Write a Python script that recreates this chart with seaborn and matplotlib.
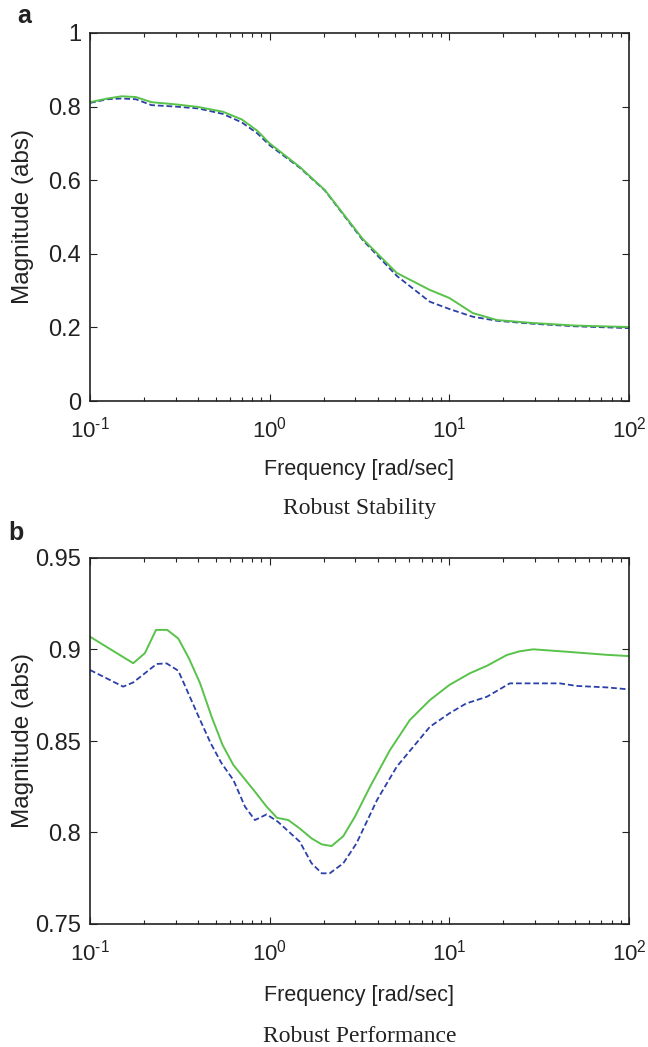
import numpy as np
import pandas as pd
import matplotlib
matplotlib.use("Agg")
import matplotlib.pyplot as plt
import matplotlib.ticker as mticker
import seaborn as sns

# Robust stability (mu bounds), panel a
rs_freq = [0.1, 0.125, 0.15, 0.18, 0.22, 0.3, 0.4, 0.55, 0.7, 0.85, 1.0, 1.47,
           2.03, 3.3, 5.1, 7.77, 10, 13.5, 18.4, 29, 50, 100]
rs_upper = [0.812, 0.822, 0.828, 0.826, 0.812, 0.806, 0.799, 0.786, 0.765, 0.735,
            0.700, 0.636, 0.573, 0.440, 0.348, 0.302, 0.280, 0.239, 0.220, 0.212,
            0.205, 0.201]
rs_lower = [0.810, 0.820, 0.822, 0.820, 0.804, 0.800, 0.795, 0.780, 0.757, 0.728,
            0.695, 0.634, 0.572, 0.437, 0.340, 0.270, 0.250, 0.229, 0.218, 0.210,
            0.203, 0.198]

# Robust performance (mu bounds), panel b
rp_freq_u = [0.1, 0.174, 0.202, 0.233, 0.269, 0.31, 0.356, 0.41, 0.475, 0.547,
             0.628, 0.828, 0.962, 1.10, 1.27, 1.47, 1.71, 1.95, 2.21, 2.57, 2.98,
             3.62, 4.67, 6.03, 7.8, 10, 13, 16.2, 20.9, 24.6, 29.3, 44.7, 75, 100]
rp_upper = [0.907, 0.8925, 0.898, 0.9107, 0.9107, 0.906, 0.895, 0.8815, 0.8633,
            0.8478, 0.8369, 0.8223, 0.8141, 0.808, 0.8068, 0.8022, 0.7968, 0.7935,
            0.7926, 0.798, 0.8086, 0.825, 0.845, 0.8615, 0.8724, 0.8806, 0.887,
            0.8911, 0.897, 0.899, 0.9001, 0.8988, 0.8971, 0.8964]
rp_freq_l = [0.1, 0.153, 0.174, 0.235, 0.267, 0.31, 0.356, 0.41, 0.47, 0.54,
             0.628, 0.729, 0.828, 0.962, 1.11, 1.47, 1.71, 1.95, 2.16, 2.57, 3.04,
             3.96, 5.1, 7.8, 10, 12.4, 16.2, 21.7, 29.3, 41.2, 51, 75, 100]
rp_lower = [0.8888, 0.8797, 0.882, 0.8921, 0.8924, 0.8884, 0.8751, 0.8615, 0.8487,
            0.8378, 0.8287, 0.8141, 0.8068, 0.8099, 0.8059, 0.795, 0.7832, 0.7777,
            0.7777, 0.7832, 0.794, 0.8178, 0.836, 0.8578, 0.8651, 0.8705, 0.8742,
            0.8815, 0.8815, 0.8815, 0.8801, 0.8793, 0.8782]

GREEN = "#58c24a"
BLUE = "#2b40a8"
INK = "#222222"

sns.set_style("ticks")
plt.rcParams["font.family"] = ["Liberation Sans", "DejaVu Sans"]
plt.rcParams["mathtext.fontset"] = "custom"
plt.rcParams["mathtext.rm"] = "Liberation Sans"
plt.rcParams["mathtext.it"] = "Liberation Sans"
plt.rcParams["mathtext.bf"] = "Liberation Sans:bold"

fig = plt.figure(figsize=(6.48, 10.47), dpi=100)
W, H = 648, 1047
ax_a = fig.add_axes([90 / W, 1 - 401 / H, 539 / W, 368 / H])
ax_b = fig.add_axes([90 / W, 1 - 924 / H, 539 / W, 366 / H])


def decade_label(v, pos):
    e = int(round(np.log10(v)))
    return "10$^{\\text{%d}}$" % e


def draw_panel(ax, fu, yu, fl, yl, ylim, yticks, yticklabels, xlab_y):
    up = pd.DataFrame({"f": fu, "m": yu})
    lo = pd.DataFrame({"f": fl, "m": yl})
    sns.lineplot(data=lo, x="f", y="m", ax=ax, color=BLUE, lw=1.3,
                 linestyle=(0, (3.2, 1.6)))
    sns.lineplot(data=up, x="f", y="m", ax=ax, color=GREEN, lw=1.4)
    ax.set_xscale("log")
    ax.set_xlim(0.1, 100)
    ax.set_ylim(*ylim)
    ax.set_yticks(yticks)
    ax.set_yticklabels(yticklabels)
    ax.xaxis.set_major_locator(mticker.FixedLocator([0.1, 1, 10, 100]))
    ax.xaxis.set_minor_locator(mticker.LogLocator(base=10, subs=np.arange(2, 10),
                                                  numticks=10))
    ax.xaxis.set_major_formatter(mticker.FuncFormatter(decade_label))
    ax.xaxis.set_minor_formatter(mticker.NullFormatter())
    ax.tick_params(axis="both", which="both", direction="in", top=True, right=True,
                   colors=INK, width=0.8)
    ax.tick_params(axis="both", which="major", length=5)
    ax.tick_params(axis="x", which="minor", length=3)
    ax.tick_params(axis="x", which="major", labelsize=16, pad=11)
    ax.tick_params(axis="y", which="major", labelsize=17, pad=6.5)
    for s in ax.spines.values():
        s.set_linewidth(1.2)
        s.set_color(INK)
    ax.set_xlabel("Frequency [rad/sec]", fontsize=15.5, color=INK)
    ax.xaxis.set_label_coords(0.5, xlab_y)
    ax.xaxis.label.set_va("baseline")
    ax.set_ylabel("Magnitude (abs)", fontsize=17.5, color=INK)
    ax.yaxis.set_label_coords(-0.104, 0.5)


draw_panel(ax_a, rs_freq, rs_upper, rs_freq, rs_lower, (0, 1),
           [0, 0.2, 0.4, 0.6, 0.8, 1.0], ["0", "0.2", "0.4", "0.6", "0.8", "1"],
           (401 - 475) / 368)
draw_panel(ax_b, rp_freq_u, rp_upper, rp_freq_l, rp_lower, (0.75, 0.95),
           [0.75, 0.8, 0.85, 0.9, 0.95], ["0.75", "0.8", "0.85", "0.9", "0.95"],
           (924 - 1001) / 366)

fig.text(17 / W, 1 - 23 / H, "a", fontsize=18, fontweight="bold", va="baseline",
         color=INK)
fig.text(8 / W, 1 - 540 / H, "b", fontsize=18, fontweight="bold", va="baseline",
         color=INK)
fig.text(359.5 / W, 1 - 514 / H, "Robust Stability", fontsize=17,
         family="Liberation Serif", ha="center", va="baseline", color=INK)
fig.text(359.5 / W, 1 - 1042 / H, "Robust Performance", fontsize=17,
         family="Liberation Serif", ha="center", va="baseline", color=INK)

fig.savefig("out.png", dpi=100)
